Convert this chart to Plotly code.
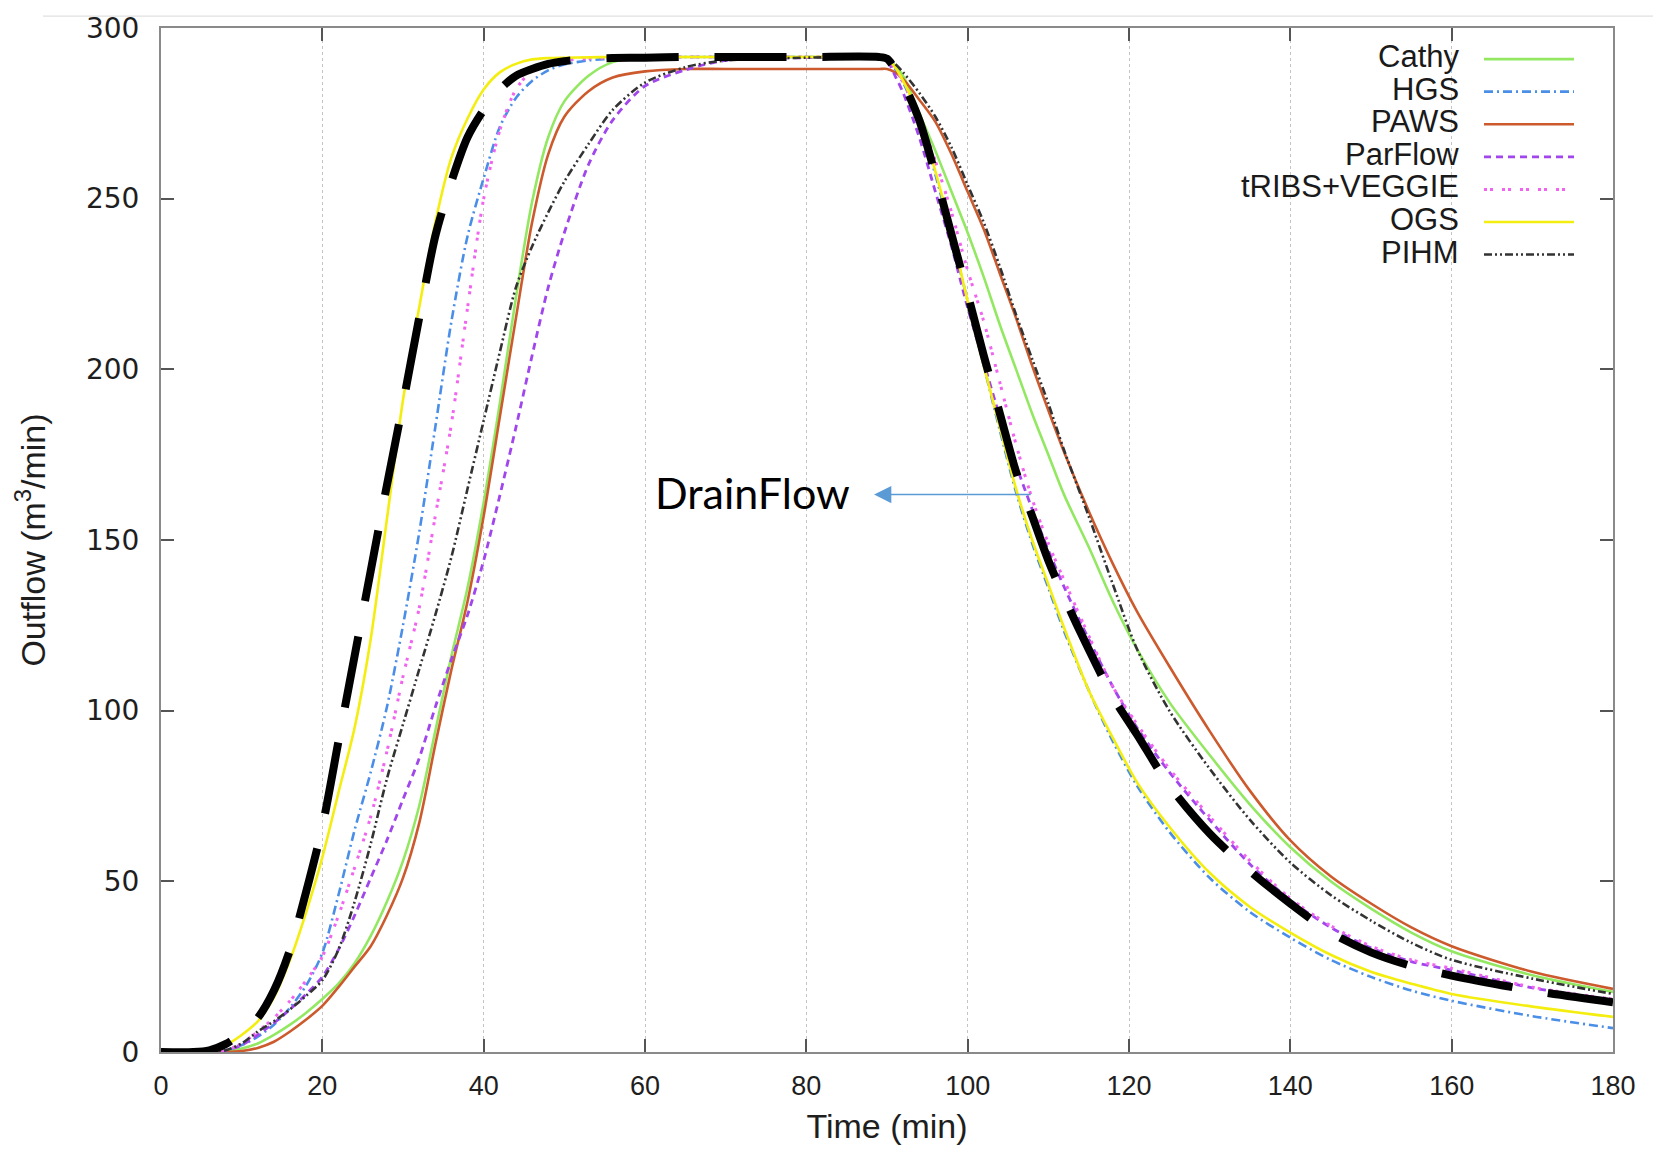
import plotly.graph_objects as go

# ---------------- data ----------------
time_min = [0, 4, 6, 8, 10, 12, 14, 16, 18, 20, 22, 24, 26, 28, 30, 32, 34, 36, 38, 40,
            42, 44, 46, 48, 50, 53, 56, 60, 65, 70, 80, 89, 90, 91, 92, 94, 96, 98, 100, 102,
            104, 106, 108, 110, 112, 115, 118, 121, 125, 130, 135, 140, 145, 150, 155, 160, 170, 180]

cathy = [0, 0, 0, 0.3, 1, 2.5, 5, 8, 11.5, 15.5, 20, 26, 34, 44, 56, 72, 94, 116, 136, 161,
         190, 221, 249, 268, 278.5, 286, 290, 291.3, 291.5, 291.5, 291.5, 291.5, 291.3, 289, 286, 275, 264, 252, 240, 227,
         213, 200, 187, 175, 163, 148, 132, 118, 102.5, 87, 72.5, 60, 50, 42, 35, 29.5, 22.5, 17.6]

hgs = [0, 0, 0, 0.5, 2, 4.5, 8, 13, 19.5, 29, 46, 65, 82, 101, 125, 152, 183, 214, 239, 256,
       271, 279.5, 284.5, 287.6, 289.3, 290.5, 291, 291.3, 291.5, 291.5, 291.5, 291.5, 291, 288, 284, 273, 257, 239, 220, 201,
       182, 164, 149, 136, 123, 106, 91, 78, 64.5, 51, 41, 33.5, 27, 22, 18, 15, 10.5, 7]

paws = [0, 0, 0, 0, 0.3, 1.2, 3, 6, 9.5, 13.5, 19, 25, 31, 40, 51, 67, 90, 112, 132, 157,
        186, 215, 243, 263, 274, 281.5, 285.5, 287.3, 288, 288, 288, 288, 288, 287, 285, 279, 272.5, 263, 252, 241,
        228, 215, 201, 188, 175.5, 158.5, 143, 129, 113, 94, 76.5, 62, 51.5, 43.5, 36.5, 31, 23.5, 18.5]

parflow = [0, 0, 0, 0.5, 2, 5, 8.5, 12.5, 17, 22, 30, 40, 51, 62, 74, 86, 101, 115, 128, 144,
           163, 183, 204, 224, 240, 260, 273, 283, 287.7, 290.5, 291.3, 291.5, 290.5, 286, 281, 268, 252, 236, 218, 202,
           186, 172, 159, 147, 136, 121, 107, 95, 82, 68, 55, 44.5, 36.5, 30.5, 26.5, 24, 18.8, 15.2]

tribs_veggie = [0, 0, 0, 0.5, 2.5, 6, 10, 15, 21, 28, 40, 54, 69, 88, 110, 130, 157, 184, 218, 250,
                270, 282, 287.5, 289.5, 290.5, 291, 291.2, 291.4, 291.5, 291.5, 291.5, 291.5, 291, 288, 284, 274, 261, 246, 229, 214,
                196, 178, 162, 149, 138, 122, 107, 96, 83, 69, 56, 45, 37, 31, 27, 24.5, 19, 15.5]

ogs = [0, 0, 0.3, 2, 5, 9, 16, 27, 41, 57, 76, 95, 121, 156, 191, 218, 243, 262, 273.5, 282,
       287, 289.5, 290.8, 291.2, 291.3, 291.4, 291.5, 291.5, 291.5, 291.5, 291.5, 291.5, 291.2, 288.5, 284.5, 274, 258, 240, 220, 201,
       183, 165, 150, 137, 124, 106, 92, 79, 66, 52.5, 42.5, 35, 28.5, 23.5, 20, 17, 13.3, 10.3]

pihm = [0, 0, 0, 0.5, 2.5, 6, 9, 12.5, 16.5, 21, 30, 44, 61, 80, 96, 112, 128, 145, 165, 185,
        205, 224, 236, 246, 255, 266, 276, 284, 288.5, 290.5, 291.3, 291.5, 291, 289.5, 287, 281, 274, 265, 254, 243,
        230, 216, 203, 190, 176, 157, 137, 118, 100, 83, 68, 55.5, 46, 38.5, 32, 27, 21.5, 17]

drainflow = [0, 0, 0.5, 2.3, 5.5, 10, 18, 30, 47, 66, 91, 116, 141, 166, 190, 215, 239, 255, 268, 276,
             282, 286, 288, 289.5, 290.3, 291, 291.2, 291.3, 291.5, 291.5, 291.5, 291.5, 291, 288, 284, 273, 257, 239.5, 222, 204,
             187, 170, 157, 144, 133, 118, 104, 93, 78, 64, 53, 43.5, 35, 29.2, 25.2, 22.4, 18, 14.6]

series_names = ["Cathy", "HGS", "PAWS", "ParFlow", "tRIBS+VEGGIE", "OGS", "PIHM"]
series_values = [cathy, hgs, paws, parflow, tribs_veggie, ogs, pihm]

x_ticks = [0, 20, 40, 60, 80, 100, 120, 140, 160, 180]
y_ticks = [0, 50, 100, 150, 200, 250, 300]

# ---------------- styles ----------------
styles = {
    "Cathy": dict(color="#93e862", width=2.6, dash="solid"),
    "HGS": dict(color="#4a8ee8", width=2.6, dash="9px,4px,2px,4px"),
    "PAWS": dict(color="#cc5a2c", width=2.6, dash="solid"),
    "ParFlow": dict(color="#a046ec", width=2.8, dash="7px,5px"),
    "tRIBS+VEGGIE": dict(color="#f064f0", width=3.0, dash="3px,3px,3px,9px"),
    "OGS": dict(color="#f4ee10", width=2.6, dash="solid"),
    "PIHM": dict(color="#333333", width=2.6, dash="8px,3px,2px,3px,2px,3px"),
}

fig = go.Figure()
for name, vals in zip(series_names, series_values):
    st = styles[name]
    fig.add_trace(go.Scatter(x=time_min, y=vals, mode="lines", name=name,
                             line=dict(color=st["color"], width=st["width"], dash=st["dash"],
                                       shape="spline", smoothing=0.8),
                             showlegend=False))

fig.add_trace(go.Scatter(x=time_min, y=drainflow, mode="lines", name="DrainFlow",
                         line=dict(color="black", width=8, dash="72px,36px",
                                   shape="spline", smoothing=0.8),
                         showlegend=False))

# ---------------- layout ----------------
L, R, T, B = 161, 40, 21, 104
W, H = 1653, 1156
pw, ph = W - L - R, H - T - B

def px_x(X):
    return (X - L) / pw

def px_y(Y):
    return (H - B - Y) / ph

fig.update_layout(
    width=W, height=H,
    margin=dict(l=L, r=R, t=T, b=B),
    paper_bgcolor="white", plot_bgcolor="white",
    showlegend=False,
    xaxis=dict(range=[0, 180], tickvals=x_ticks, ticks="inside", ticklen=13, tickwidth=1.5,
               tickcolor="#555555", showline=True, linecolor="#8a8a8a", linewidth=2, mirror="ticks",
               showgrid=True, gridcolor="#c4c4c4", griddash="dot", gridwidth=1,
               zeroline=False,
               tickfont=dict(family="Liberation Sans, Arial, sans-serif", size=27, color="#1e1e1e"),
               ticklabelstandoff=9,
               title=dict(text="Time (min)",
                          font=dict(family="Liberation Sans, Arial, sans-serif",
                                    size=34, color="#1e1e1e"), standoff=14)),
    yaxis=dict(range=[0, 300], tickvals=y_ticks, ticks="inside", ticklen=13, tickwidth=1.5,
               tickcolor="#555555", showline=True, linecolor="#8a8a8a", linewidth=2, mirror="ticks",
               showgrid=False, zeroline=False,
               tickfont=dict(family="DejaVu Sans, Liberation Sans, sans-serif", size=28, color="#1e1e1e"),
               ticklabelstandoff=14,
               title=dict(text="Outflow (m<sup>3</sup>/min)",
                          font=dict(family="Liberation Sans, Arial, sans-serif",
                                    size=34, color="#1e1e1e"),
                          standoff=30)),
)

# custom legend: text right-aligned, sample line on the right
legend_rows_y = [52.3, 85.1, 117.9, 150.7, 183.5, 216.3, 249.1]
for name, ry in zip(series_names, legend_rows_y):
    st = styles[name]
    fig.add_annotation(xref="paper", yref="paper", x=px_x(1461), y=px_y(ry - 2.5), text=name,
                       showarrow=False, xanchor="right", yanchor="middle",
                       font=dict(family="Liberation Sans, Arial, sans-serif", size=31, color="#1a1a1a"))
    fig.add_shape(type="line", xref="paper", yref="paper", x0=px_x(1484), x1=px_x(1574),
                  y0=px_y(ry), y1=px_y(ry),
                  line=dict(color=st["color"], width=st["width"], dash=st["dash"]))

# faint rule at the very top of the picture
fig.add_shape(type="line", xref="paper", yref="paper", x0=px_x(43), x1=px_x(1653),
              y0=px_y(9), y1=px_y(9), line=dict(color="#d8d8d8", width=1))

# DrainFlow label and arrow
fig.add_annotation(x=61.0, y=163.8, xref="x", yref="y", text="DrainFlow", showarrow=False,
                   xanchor="left", yanchor="middle",
                   font=dict(family="Lato, Open Sans, sans-serif", size=43, color="black"))
fig.add_annotation(x=88.4, y=163.3, xref="x", yref="y", ax=108.0, ay=163.3, axref="x", ayref="y",
                   text="", showarrow=True, arrowhead=2, arrowsize=2.3, arrowwidth=1.5,
                   arrowcolor="#5b9bd5")

fig.write_html("out.html")
